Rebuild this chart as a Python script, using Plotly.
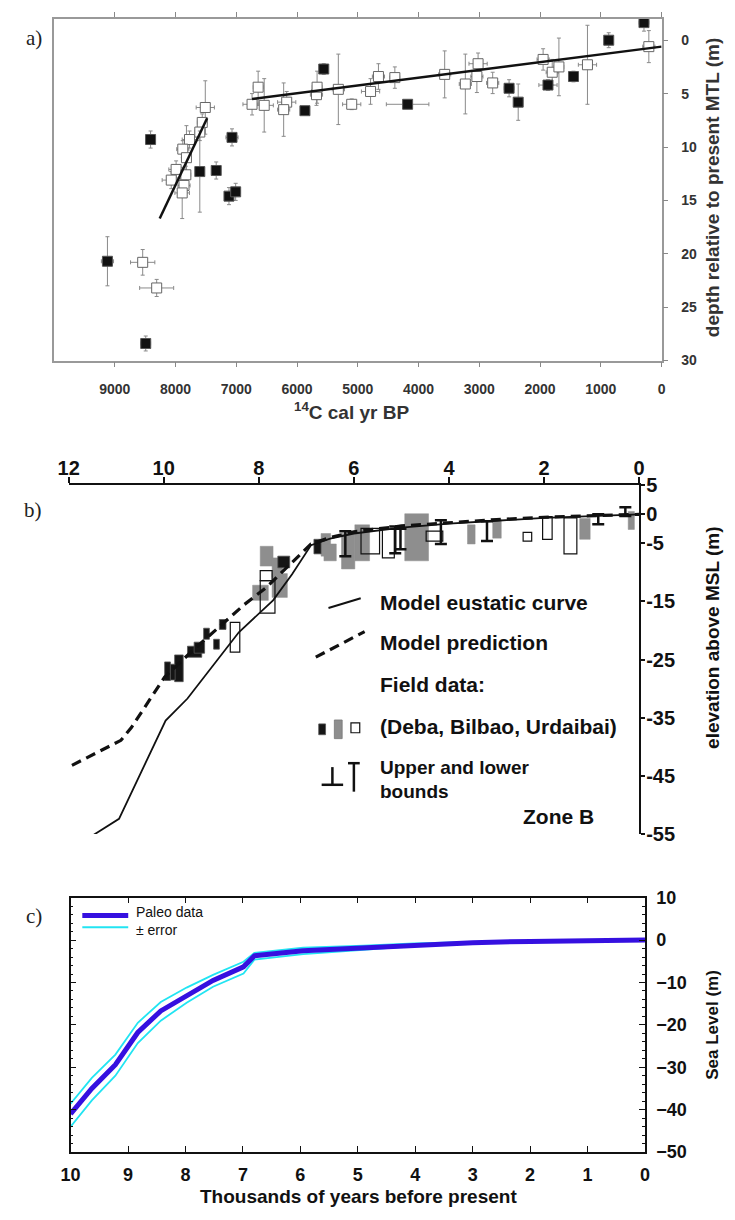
import plotly.graph_objects as go

W, H = 735, 1220
def px(x): return x / W
def py(y): return 1 - y / H

# ---------------- Panel a data ----------------
a_open_age = [8540, 8310, 7510, 7560, 7600, 7770, 7880, 7820, 7990, 8070, 7860, 7890, 7830,
              6740, 6640, 6540, 6170, 6220, 5680, 5670, 5320, 5100, 4790, 4660, 4390,
              3570, 3230, 3040, 3020, 2780, 1950, 1800, 1690, 1220, 210]
a_open_depth = [20.8, 23.2, 6.3, 7.7, 8.6, 9.3, 10.2, 11.0, 12.1, 13.1, 13.6, 14.3, 12.6,
                6.0, 4.4, 6.1, 5.8, 6.5, 5.1, 4.4, 4.6, 6.0, 4.8, 3.4, 3.5,
                3.2, 4.1, 3.4, 2.2, 4.0, 1.8, 3.0, 2.5, 2.3, 0.6]
a_open_age_err = [200, 280, 150, 80, 80, 120, 100, 80, 120, 150, 100, 120, 80,
                  150, 80, 150, 150, 100, 100, 80, 100, 150, 150, 100, 80,
                  100, 100, 100, 150, 100, 100, 100, 80, 150, 100]
a_open_depth_err = [1.2, 0.8, 2.5, 0.8, 0.8, 0.8, 0.8, 3.0, 0.8, 0.8, 0.8, 2.4, 0.8,
                    1.0, 1.5, 2.5, 1.0, 2.5, 1.0, 1.5, 3.3, 0.5, 1.2, 1.2, 1.0,
                    2.2, 2.8, 1.5, 1.0, 1.0, 1.0, 1.2, 2.7, 3.7, 1.5]

a_fill_age = [9120, 8490, 8410, 7600, 7330, 7120, 7010, 7070, 5870, 5560, 4180,
              2510, 2360, 1870, 1450, 870, 290]
a_fill_depth = [20.7, 28.4, 9.3, 12.3, 12.2, 14.6, 14.2, 9.1, 6.6, 2.7, 6.0,
                4.5, 5.8, 4.2, 3.4, 0.0, -1.65]
a_fill_age_err = [100, 80, 50, 60, 60, 60, 80, 100, 60, 60, 350, 80, 50, 150, 50, 50, 80]
a_fill_depth_err = [2.3, 0.7, 0.8, 3.8, 0.8, 0.8, 0.8, 0.8, 0.3, 0.5, 0.3, 0.8, 1.7, 0.5, 0.5, 0.7, 0.8]

a_fit_age = [8260, 7480, None, 6740, 0]
a_fit_depth = [16.7, 7.3, None, 5.5, 0.6]
a_xticks = [9000, 8000, 7000, 6000, 5000, 4000, 3000, 2000, 1000, 0]
a_yticks = [0, 5, 10, 15, 20, 25, 30]

# ---------------- Panel b data ----------------
b_eust_age = [11.5, 10.94, 9.96, 9.5, 8.42, 7.7, 7.3, 6.9, 6.5, 6.0, 5.0, 4.0, 3.0, 2.0, 1.0, 0]
b_eust_elev = [-55.3, -52.4, -35.5, -31.7, -20.3, -14.8, -10.3, -5.3, -4.2, -3.3, -2.3, -1.6, -1.1, -0.6, -0.3, 0]
b_pred_age = [11.93, 10.9, 10.68, 9.98, 9.36, 8.75, 8.3, 7.86, 7.45, 6.9, 6.5, 6.0, 5.0, 4.0, 3.0, 2.0, 1.0, 0]
b_pred_elev = [-43.2, -38.9, -36.7, -28.0, -23.2, -18.7, -15.5, -12.7, -9.4, -5.1, -4.0, -3.0, -2.0, -1.4, -0.9, -0.5, -0.2, 0]

b_black_lo_age = [9.86, 9.59, 9.76, 9.2, 9.14, 9.04, 8.83, 8.69, 7.35, 6.69]
b_black_hi_age = [9.98, 9.77, 9.86, 9.5, 9.36, 9.16, 8.95, 8.83, 7.6, 6.84]
b_black_lo_elev = [-28.6, -28.8, -28.5, -24.6, -23.9, -21.5, -23.2, -19.8, -9.2, -6.8]
b_black_hi_elev = [-25.4, -24.2, -25.8, -22.7, -22.0, -19.6, -21.5, -18.1, -7.2, -4.3]

b_gray_lo_age = [7.7, 7.4, 7.8, 7.5, 6.49, 6.37, 5.98, 5.67, 4.43, 3.45, 2.9, 1.03, 0.1]
b_gray_hi_age = [7.97, 7.72, 8.13, 7.72, 6.69, 6.63, 6.26, 5.98, 4.93, 3.61, 3.08, 1.25, 0.23]
b_gray_lo_elev = [-8.9, -14.3, -14.8, -10.8, -7.2, -8.0, -9.4, -8.0, -8.0, -5.1, -4.1, -4.3, -2.6]
b_gray_hi_elev = [-5.5, -10.2, -12.2, -7.5, -3.3, -5.1, -3.3, -1.8, 0.1, -1.8, -0.9, -0.7, 0.5]

b_open_lo_age = [8.4, 7.66, 7.72, 5.46, 5.15, 4.13, 2.26, 1.83, 1.31]
b_open_hi_age = [8.6, 7.97, 7.97, 5.85, 5.4, 4.48, 2.44, 2.03, 1.58]
b_open_lo_elev = [-23.7, -17.0, -11.4, -6.8, -7.5, -4.6, -4.6, -4.3, -6.8]
b_open_hi_elev = [-18.6, -11.4, -9.7, -2.4, -2.6, -2.9, -3.1, -0.4, -0.6]

b_bound_age = [6.18, 5.13, 5.02, 4.17, 3.2, 0.86, 0.29]
b_bound_lo = [-7.2, -6.7, -6.0, -5.1, -4.6, -1.7, -0.3]
b_bound_hi = [-2.9, -2.1, -2.5, -1.0, -1.2, 0.0, 1.2]

b_xticks = [12, 10, 8, 6, 4, 2, 0]
b_yticks = [5, 0, -5, -15, -25, -35, -45, -55]
b_yticktext = ['5', '0', '-5', '-15', '-25', '-35', '-45', '-55']

# ---------------- Panel c data ----------------
c_age = [10, 9.63, 9.22, 8.83, 8.43, 7.98, 7.52, 6.99, 6.8, 5.95, 4.9, 4.02, 3.0, 2.0, 1.0, 0]
c_sl = [-41, -35, -29.4, -21.8, -16.7, -13, -9.5, -6.3, -3.7, -2.5, -1.8, -1.1, -0.6, -0.3, -0.2, 0]
c_upper = [-38.6, -32.5, -27, -19.5, -14.6, -11.2, -8.2, -5.1, -3.0, -1.8, -1.3, -0.8, -0.45, -0.25, -0.15, 0]
c_lower = [-44.0, -37.8, -32, -24.3, -19.0, -14.8, -11, -7.9, -4.6, -3.3, -2.3, -1.4, -0.75, -0.35, -0.25, 0]
c_xticks = list(range(0, 11))
c_yticks = [10, 0, -10, -20, -30, -40, -50]

FONT = 'Liberation Sans'
fig = go.Figure()

# ---- panel a traces ----
fig.add_trace(go.Scatter(
    x=a_open_age, y=a_open_depth, mode='markers', xaxis='x', yaxis='y',
    marker=dict(symbol='square', size=10, color='white', line=dict(color='#666', width=1)),
    error_x=dict(type='data', array=a_open_age_err, color='#8a8a8a', thickness=1, width=2),
    error_y=dict(type='data', array=a_open_depth_err, color='#8a8a8a', thickness=1, width=2),
    showlegend=False, hoverinfo='skip'))
fig.add_trace(go.Scatter(
    x=a_fill_age, y=a_fill_depth, mode='markers', xaxis='x', yaxis='y',
    marker=dict(symbol='square', size=10, color='#111', line=dict(color='#555', width=1)),
    error_x=dict(type='data', array=a_fill_age_err, color='#8a8a8a', thickness=1, width=2),
    error_y=dict(type='data', array=a_fill_depth_err, color='#8a8a8a', thickness=1, width=2),
    showlegend=False, hoverinfo='skip'))
fig.add_trace(go.Scatter(
    x=a_fit_age, y=a_fit_depth, mode='lines', xaxis='x', yaxis='y',
    line=dict(color='#111', width=2.5), showlegend=False, hoverinfo='skip'))

# ---- panel b traces ----
def boxes(lo_a, hi_a, lo_e, hi_e, fill, line_color, line_w):
    return go.Bar(
        x=[(a + b) / 2 for a, b in zip(lo_a, hi_a)],
        width=[b - a for a, b in zip(lo_a, hi_a)],
        base=lo_e, y=[h - l for l, h in zip(lo_e, hi_e)],
        xaxis='x2', yaxis='y2', marker=dict(color=fill, line=dict(color=line_color, width=line_w)),
        showlegend=False, hoverinfo='skip')

fig.add_trace(boxes(b_gray_lo_age, b_gray_hi_age, b_gray_lo_elev, b_gray_hi_elev, '#8e8e8e', '#8e8e8e', 0.5))
fig.add_trace(boxes(b_open_lo_age, b_open_hi_age, b_open_lo_elev, b_open_hi_elev, 'rgba(255,255,255,0)', '#111', 1.2))
fig.add_trace(boxes(b_black_lo_age, b_black_hi_age, b_black_lo_elev, b_black_hi_elev, '#151515', '#555', 0.8))

fig.add_trace(go.Scatter(
    x=b_bound_age, y=[(l + h) / 2 for l, h in zip(b_bound_lo, b_bound_hi)],
    mode='markers', marker=dict(size=1, color='rgba(0,0,0,0)'), xaxis='x2', yaxis='y2',
    error_y=dict(type='data', array=[(h - l) / 2 for l, h in zip(b_bound_lo, b_bound_hi)],
                 color='#111', thickness=2.5, width=6),
    showlegend=False, hoverinfo='skip'))

fig.add_trace(go.Scatter(x=b_eust_age, y=b_eust_elev, mode='lines', xaxis='x2', yaxis='y2',
                         line=dict(color='#111', width=1.8), showlegend=False, hoverinfo='skip'))
fig.add_trace(go.Scatter(x=b_pred_age, y=b_pred_elev, mode='lines', xaxis='x2', yaxis='y2',
                         line=dict(color='#111', width=3.2, dash='10px,6px'), showlegend=False, hoverinfo='skip'))

# ---- panel c traces ----
fig.add_trace(go.Scatter(x=c_age, y=c_upper, mode='lines', xaxis='x3', yaxis='y3',
                         line=dict(color='#22e4f2', width=1.8), showlegend=False, hoverinfo='skip'))
fig.add_trace(go.Scatter(x=c_age, y=c_lower, mode='lines', xaxis='x3', yaxis='y3',
                         line=dict(color='#22e4f2', width=1.8), showlegend=False, hoverinfo='skip'))
fig.add_trace(go.Scatter(x=c_age, y=c_sl, mode='lines', xaxis='x3', yaxis='y3',
                         line=dict(color='#3510e0', width=5), showlegend=False, hoverinfo='skip'))

# ---- shapes (legend glyphs) ----
shapes = []
def pline(x0, y0, x1, y1, color='#111', width=2, dash=None):
    d = dict(type='line', xref='paper', yref='paper', x0=px(x0), y0=py(y0), x1=px(x1), y1=py(y1),
             line=dict(color=color, width=width))
    if dash:
        d['line']['dash'] = dash
    shapes.append(d)
def prect(x0, y0, x1, y1, fill, line_color='#111', width=1):
    shapes.append(dict(type='rect', xref='paper', yref='paper', x0=px(x0), y0=py(y0), x1=px(x1), y1=py(y1),
                       fillcolor=fill, line=dict(color=line_color, width=width)))

pline(325, 608, 358, 598, width=2)
pline(312, 658, 362, 632, width=3.2, dash='10px,6px')
prect(315, 726, 322, 737, '#151515', '#555', 0.8)
prect(331, 722, 339, 741, '#8e8e8e', '#777', 0.8)
prect(348, 725, 357, 735, 'white', '#111', 1.2)
pline(318, 788, 340, 788, width=2.5)
pline(329, 770, 329, 788, width=2.5)
pline(345, 766, 357, 766, width=2.5)
pline(351, 766, 351, 795, width=2.5)
# panel c legend
pline(73, 921, 120, 921, color='#3510e0', width=5)
pline(73, 933, 120, 933, color='#22e4f2', width=2)

# ---- annotations ----
ann = []
def text(t, x, y, size, color='#111', xanchor='center', yanchor='middle', angle=0, family=FONT):
    ann.append(dict(text=t, x=px(x), y=py(y), xref='paper', yref='paper', showarrow=False,
                    xanchor=xanchor, yanchor=yanchor, textangle=angle, borderpad=0,
                    font=dict(family=family, size=size, color=color)))

text('a)', 24, 27, 21, '#222', family='Liberation Serif')
text('b)', 23, 508, 21, '#222', family='Liberation Serif')
text('c)', 24, 922, 21, '#222', family='Liberation Serif')
text('<b><sup>14</sup>C cal yr BP</b>', 349, 407, 19, '#333')
text('<b>depth relative to present MTL (m)</b>', 718, 180, 19, '#333', angle=-90)
text('<b>elevation above MSL (m)</b>', 718, 638, 19, '#111', angle=-90)
text('<b>Model eustatic curve</b>', 377, 602, 21, xanchor='left')
text('<b>Model prediction</b>', 377, 643, 21, xanchor='left')
text('<b>Field data:</b>', 377, 686, 21, xanchor='left')
text('<b>(Deba, Bilbao, Urdaibai)</b>', 377, 729, 21, xanchor='left')
text('<b>Upper and lower</b>', 377, 782, 19, xanchor='left', yanchor='bottom')
text('<b>bounds</b>', 377, 783, 19, xanchor='left', yanchor='top')
text('<b>Zone B</b>', 560, 820, 21)
text('Paleo data', 127, 927, 14, xanchor='left', yanchor='bottom')
text('± error', 127, 927, 14, xanchor='left', yanchor='top')
text('<b>Thousands of years before present</b>', 356, 1207, 19)
text('<b>Sea Level (m)</b>', 718, 1032, 17, angle=-90)

tf_a = dict(family=FONT, size=14, color='#333', weight='bold')
tf_b = dict(family=FONT, size=20, color='#111', weight='bold')
tf_c = dict(family=FONT, size=18, color='#111', weight='bold')

fig.update_layout(
    width=W, height=H, margin=dict(l=0, r=0, t=0, b=0),
    paper_bgcolor='white', plot_bgcolor='rgba(0,0,0,0)',
    barmode='overlay', showlegend=False,
    shapes=shapes, annotations=ann,
    xaxis=dict(domain=[px(44), px(666)], range=[10000, 0], anchor='y', tickvals=a_xticks,
               ticks='outside', ticklen=5, tickcolor='#888', showline=True, linecolor='#999',
               linewidth=1.5, mirror='ticks', showgrid=False, zeroline=False, tickfont=tf_a,
               ticklabelstandoff=10),
    yaxis=dict(domain=[py(356), py(8)], range=[30, -2], anchor='x', side='right', tickvals=a_yticks,
               ticks='outside', ticklen=5, tickcolor='#888', showline=True, linecolor='#999',
               linewidth=1.5, mirror=True, showgrid=False, zeroline=False, tickfont=tf_a,
               ticklabelstandoff=10),
    xaxis2=dict(domain=[px(59), px(643)], range=[12, 0], anchor='y2', side='top', tickvals=b_xticks,
                ticks='outside', ticklen=6, tickwidth=2, tickcolor='#111', showline=True,
                linecolor='#111', linewidth=2, showgrid=False, zeroline=False, tickfont=tf_b,
                ticklabelstandoff=-6),
    yaxis2=dict(domain=[py(838), py(483)], range=[-55, 5], anchor='x2', side='right',
                tickvals=b_yticks, ticktext=b_yticktext, ticks='outside', ticklen=4, tickwidth=2,
                tickcolor='#111', showline=True, linecolor='#111', linewidth=2, showgrid=False,
                zeroline=False, tickfont=tf_b, ticklabelstandoff=-3),
    xaxis3=dict(domain=[px(61), px(649)], range=[10, 0], anchor='y3', tickvals=c_xticks,
                ticks='inside', ticklen=6, tickcolor='#111', showline=True, linecolor='#111',
                linewidth=1.5, mirror='allticks', showgrid=False, zeroline=False, tickfont=tf_c,
                ticklabelstandoff=6),
    yaxis3=dict(domain=[py(1162), py(903)], range=[-50, 10], anchor='x3', side='right',
                tickvals=c_yticks, ticks='inside', ticklen=6, tickcolor='#111', showline=True,
                linecolor='#111', linewidth=1.5, mirror='allticks', showgrid=False, zeroline=False,
                tickfont=tf_c, ticklabelstandoff=6,
                minor=dict(ticks='inside', ticklen=3, dtick=2, tickcolor='#111')),
)

fig.write_html('out.html',
               post_script="document.body.style.margin='0';document.body.style.padding='0';"
                           "document.body.style.overflow='hidden';")
